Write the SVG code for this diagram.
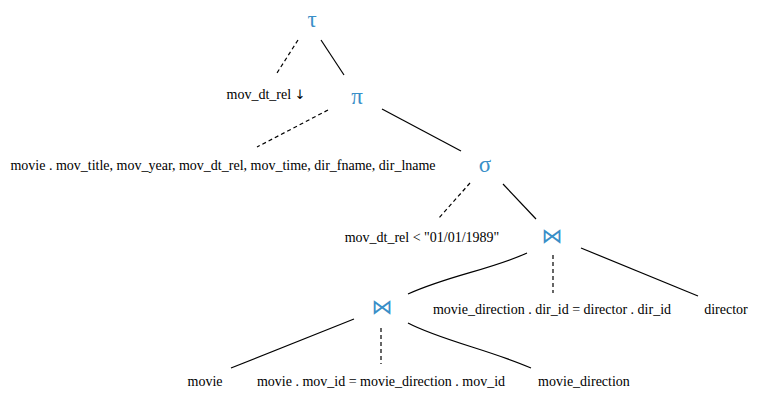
<svg xmlns="http://www.w3.org/2000/svg" width="760" height="405" viewBox="0 0 760 405">
<style>
.t{font-family:"Liberation Serif","Times New Roman",serif;font-size:14px;fill:#000;text-anchor:middle}
.op{font-family:"Liberation Serif","DejaVu Serif",serif;font-size:23px;fill:#3a8fc8;text-anchor:middle}
.j{font-family:"DejaVu Sans",sans-serif;font-size:21px;fill:#3a8fc8;text-anchor:middle}
.ar{font-family:"DejaVu Sans",sans-serif;font-size:13px;fill:#000}
.s{stroke:#000;stroke-width:1.2;fill:none}
.d{stroke:#000;stroke-width:1.2;fill:none;stroke-dasharray:4,3}
</style>
<rect width="760" height="405" fill="#fff"/>
<g id="connectors">
<line class="d" x1="298" y1="40" x2="277" y2="73"/>
<line class="s" x1="321" y1="40" x2="344" y2="75"/>
<line class="d" x1="328" y1="110" x2="257" y2="147"/>
<line class="s" x1="382" y1="109" x2="461" y2="151"/>
<line class="d" x1="470" y1="183" x2="439" y2="218"/>
<line class="s" x1="503" y1="184" x2="536" y2="219"/>
<path class="s" d="M527,253 C490,270 450,275 408,294"/>
<line class="d" x1="553" y1="255" x2="553" y2="293"/>
<line class="s" x1="581" y1="248" x2="698" y2="296"/>
<line class="s" x1="354" y1="319" x2="231" y2="368"/>
<line class="d" x1="381" y1="328" x2="381" y2="364"/>
<path class="s" d="M408,323 C440,340 490,350 531,368"/>
</g>
<g id="tau"><text class="op" x="312" y="27">τ</text></g>
<g id="sort-attr"><text class="t" x="266" y="99">mov_dt_rel <tspan class="ar">↓</tspan></text></g>
<g id="pi"><text class="op" x="357" y="104">π</text></g>
<g id="proj-attrs"><text class="t" x="223" y="170">movie . mov_title, mov_year, mov_dt_rel, mov_time, dir_fname, dir_lname</text></g>
<g id="sigma"><text class="op" x="485" y="172">σ</text></g>
<g id="sel-cond"><text class="t" x="422" y="242">mov_dt_rel &lt; "01/01/1989"</text></g>
<g id="join1"><text class="j" x="552" y="243">⋈</text></g>
<g id="join1-cond"><text class="t" x="552" y="314">movie_direction . dir_id = director . dir_id</text></g>
<g id="director"><text class="t" x="726" y="314">director</text></g>
<g id="join2"><text class="j" x="382" y="314">⋈</text></g>
<g id="movie"><text class="t" x="205" y="386">movie</text></g>
<g id="join2-cond"><text class="t" x="381" y="386">movie . mov_id = movie_direction . mov_id</text></g>
<g id="movie-direction"><text class="t" x="584" y="386">movie_direction</text></g>
</svg>
